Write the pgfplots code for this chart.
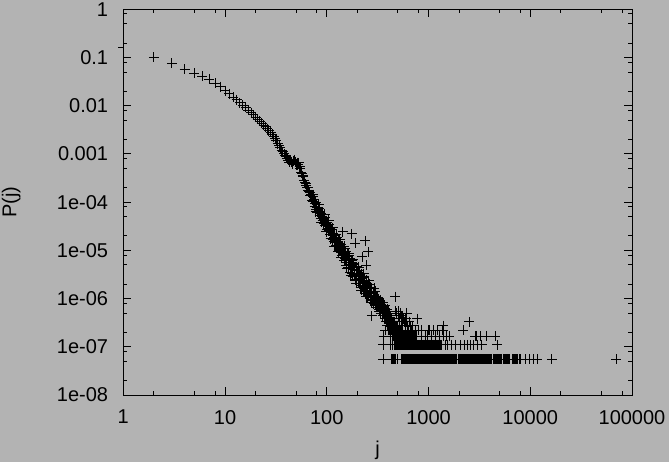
\documentclass[border=0pt]{standalone}
\usepackage{fontspec}
\setmainfont{Liberation Sans}
\usepackage{pgfplots}
\usepackage{pgfplotstable}
\pgfplotsset{compat=1.18}
\definecolor{bgc}{RGB}{179,179,179}
\newcommand{\lblfont}{\fontsize{20bp}{24bp}\selectfont}
\pgfplotstableread{
j P
2 0.101
3 0.0758
4 0.0569
5 0.047
6 0.0413
7 0.0358
8 0.0292
9 0.0248
10 0.0205
11 0.0178
12 0.0151
13 0.0132
14 0.0116
15 0.01035
16 0.00923
17 0.00813
18 0.00716
19 0.00646
20 0.00582
21 0.00525
22 0.00479
23 0.00437
24 0.00398
25 0.00363
26 0.00331
27 0.00305
28 0.00282
29 0.00257
30 0.00229
31 0.00209
32 0.00191
33 0.00162
34 0.00148
35 0.00135
36 0.00120
37 0.00110
38 0.00100
39 0.00093
40 0.00087
41 0.00079
42 0.00074
43 0.00068
44 0.00074
45 0.00068
46 0.00063
47 0.00072
48 0.00076
49 0.00068
50 0.00060
51 0.00066
52 0.00060
53 0.00065
54 0.00054
55 0.00050
56 0.00042
57 0.00040
58 0.000355
59 0.00034
60 0.00028
61 0.00026
62 0.00024
63 0.00022
64 0.000204
65 0.0002
66 0.000174
67 0.000166
68 0.000158
69 0.000138
70 0.000141
71 1.41e-4
72 1.10e-4
73 1.33e-4
74 1.04e-4
75 1.12e-4
76 8.15e-5
77 9.4e-5
78 9.9e-5
79 7.2e-5
80 7.6e-5
81 6.2e-5
82 7.6e-5
83 6.4e-5
84 7.5e-5
85 5.33e-5
86 6.0e-5
87 4.56e-5
88 5.77e-5
89 5.04e-5
90 5.55e-5
91 4.22e-5
92 4.75e-5
93 3.62e-5
94 4.61e-5
95 3.79e-5
96 4.72e-5
97 3.23e-5
98 3.66e-5
99 3.79e-5
100 2.71e-5
101 3.70e-5
102 2.90e-5
103 3.15e-5
104 2.53e-5
105 3.37e-5
106 2.65e-5
107 2.81e-5
108 2.10e-5
109 2.73e-5
110 2.15e-5
111 2.67e-5
112 2.10e-5
113 2.17e-5
114 1.67e-5
115 2.28e-5
116 1.79e-5
117 2.05e-5
118 1.55e-5
119 1.85e-5
120 2.07e-5
121 1.49e-5
122 1.63e-5
123 1.29e-5
124 1.73e-5
125 1.44e-5
126 1.85e-5
127 1.24e-5
128 1.49e-5
129 1.23e-5
130 1.55e-5
131 1.02e-5
132 1.28e-5
133 1.36e-5
134 9.8e-6
135 1.32e-5
136 1.04e-5
137 1.34e-5
138 9.25e-6
139 1.08e-5
140 7.8e-6
141 1.07e-5
142 9.1e-6
143 1.11e-5
144 7.7e-6
145 9.4e-6
146 1.08e-5
148 6.19e-6
150 8.55e-6
152 6.64e-6
154 9.6e-6
156 5.52e-6
158 6.81e-6
160 7.48e-6
162 4.32e-6
164 6.40e-6
166 5.1e-6
168 6.76e-6
170 4.29e-6
172 4.94e-6
174 5.71e-6
176 3.38e-6
178 4.92e-6
180 3.94e-6
183 5.13e-6
186 3.09e-6
189 3.80e-6
192 2.52e-6
195 3.82e-6
198 2.84e-6
201 3.76e-6
204 2.49e-6
207 2.88e-6
210 2.05e-6
213 3.05e-6
216 2.33e-6
219 2.63e-6
222 1.84e-6
225 2.86e-6
228 1.87e-6
231 2.16e-6
234 1.44e-6
237 2.21e-6
240 1.77e-6
244 2.18e-6
248 1.41e-6
252 1.73e-6
256 1.15e-6
260 1.66e-6
264 1.29e-6
268 1.71e-6
272 1.06e-6
276 1.28e-6
280 9.3e-7
285 1.34e-6
290 9.7e-7
295 1.13e-6
300 7.3e-7
147 7.98e-6
151 1.08e-5
155 4.81e-6
159 8.57e-6
163 5.69e-6
167 7.74e-6
171 3.49e-6
175 6.28e-6
179 2.90e-6
185 5.33e-6
191 2.38e-6
197 4.56e-6
203 2.06e-6
209 3.78e-6
215 1.67e-6
221 3.30e-6
227 1.50e-6
233 2.72e-6
239 1.27e-6
246 2.39e-6
254 1.09e-6
262 2.0e-6
270 8.97e-7
278 1.65e-6
288 7.8e-7
298 1.42e-6
74 1.44e-4
78 6.25e-5
83 9.0e-5
88 3.81e-5
95 5.6e-5
99 2.44e-5
104 4.2e-5
109 1.73e-5
114 2.96e-5
119 1.22e-5
124 2.18e-5
129 9.35e-6
134 1.71e-5
139 6.98e-6
149 1.21e-5
157 4.29e-6
165 8.65e-6
173 2.99e-6
181 6.41e-6
194 2.08e-6
206 4.42e-6
218 1.5e-6
230 3.24e-6
243 1.1e-6
258 2.34e-6
274 8.2e-7
292 1.65e-6
144 2.43e-5
175 2.2e-5
190 1.40e-5
240 1.57e-5
257 9.3e-6
222 7.4e-6
245 4.95e-6
472 1.096e-6
302 9.864e-7
304 7.672e-7
306 1.096e-6
308 8.768e-7
311 7.124e-7
313 9.316e-7
316 8.22e-7
318 1.0412e-6
321 6.576e-7
323 8.768e-7
326 7.672e-7
328 6.028e-7
331 8.22e-7
333 7.124e-7
336 9.316e-7
338 6.576e-7
341 5.48e-7
343 7.672e-7
346 6.028e-7
348 7.124e-7
351 4.932e-7
353 6.576e-7
356 5.48e-7
358 8.22e-7
361 4.932e-7
364 6.028e-7
366 4.384e-7
368 6.576e-7
371 5.48e-7
373 3.836e-7
376 4.932e-7
378 6.028e-7
381 4.384e-7
383 3.288e-7
386 5.48e-7
388 3.836e-7
391 4.932e-7
393 2.74e-7
396 4.384e-7
398 3.288e-7
401 5.48e-7
403 3.836e-7
406 2.74e-7
408 4.932e-7
411 3.288e-7
413 4.384e-7
416 2.192e-7
418 3.836e-7
421 2.74e-7
423 3.288e-7
426 4.384e-7
428 2.192e-7
431 3.288e-7
433 2.74e-7
436 3.836e-7
438 1.644e-7
441 2.74e-7
443 3.288e-7
446 2.192e-7
448 2.74e-7
451 1.644e-7
453 3.288e-7
456 2.192e-7
458 2.74e-7
461 1.644e-7
463 2.192e-7
466 3.288e-7
468 1.644e-7
471 2.74e-7
473 2.192e-7
476 1.096e-7
478 1.644e-7
481 2.74e-7
483 2.192e-7
486 1.644e-7
488 1.096e-7
491 2.192e-7
493 1.644e-7
496 2.74e-7
498 1.096e-7
501 1.644e-7
504 2.192e-7
507 1.096e-7
510 1.644e-7
514 2.74e-7
517 1.096e-7
520 2.192e-7
524 1.644e-7
528 1.096e-7
532 2.192e-7
536 1.644e-7
540 1.096e-7
545 1.644e-7
550 2.192e-7
555 1.096e-7
560 1.644e-7
303 8.22e-7
309 1.0412e-6
314 6.576e-7
319 7.672e-7
324 9.864e-7
329 5.48e-7
334 8.768e-7
339 4.932e-7
344 7.124e-7
349 8.22e-7
354 4.384e-7
359 6.576e-7
365 5.48e-7
370 7.124e-7
375 3.836e-7
380 6.028e-7
385 4.932e-7
390 3.288e-7
395 6.028e-7
400 4.384e-7
405 3.288e-7
410 4.932e-7
415 2.74e-7
420 4.384e-7
425 3.288e-7
430 2.192e-7
435 3.836e-7
440 2.74e-7
445 1.644e-7
450 3.288e-7
277 4.384e-7
510 4.384e-7
546 4.384e-7
552 4.384e-7
480 4.932e-7
530 4.932e-7
610 4.932e-7
470 5.48e-7
505 5.48e-7
520 3.836e-7
565 3.836e-7
600 3.836e-7
778 3.836e-7
540 3.288e-7
575 3.288e-7
610 3.288e-7
650 3.288e-7
2525 3.288e-7
560 2.74e-7
596 2.74e-7
625 2.74e-7
660 2.74e-7
700 2.74e-7
1390 2.74e-7
377 2.192e-7
403 2.192e-7
436 2.192e-7
470 2.192e-7
506 2.192e-7
546 2.192e-7
589 2.192e-7
634 2.192e-7
685 2.192e-7
738 2.192e-7
796 2.192e-7
859 2.192e-7
998 2.192e-7
1021 2.192e-7
1117 2.192e-7
1224 2.192e-7
1383 2.192e-7
2204 2.192e-7
363 1.644e-7
421 1.644e-7
453 1.644e-7
490 1.644e-7
527 1.644e-7
566 1.644e-7
579 1.644e-7
592 1.644e-7
606 1.644e-7
620 1.644e-7
634 1.644e-7
649 1.644e-7
664 1.644e-7
679 1.644e-7
695 1.644e-7
711 1.644e-7
727 1.644e-7
744 1.644e-7
761 1.644e-7
859 1.644e-7
926 1.644e-7
975 1.644e-7
1077 1.644e-7
1161 1.644e-7
1271 1.644e-7
1402 1.644e-7
1514 1.644e-7
1595 1.644e-7
2872 1.644e-7
2985 1.644e-7
3215 1.644e-7
3742 1.644e-7
4518 1.644e-7
360 1.096e-7
419 1.096e-7
442 1.096e-7
462 1.096e-7
488 1.096e-7
517 1.096e-7
548 1.096e-7
561 1.096e-7
574 1.096e-7
587 1.096e-7
600 1.096e-7
614 1.096e-7
628 1.096e-7
642 1.096e-7
657 1.096e-7
672 1.096e-7
687 1.096e-7
703 1.096e-7
719 1.096e-7
735 1.096e-7
752 1.096e-7
769 1.096e-7
787 1.096e-7
805 1.096e-7
823 1.096e-7
842 1.096e-7
861 1.096e-7
881 1.096e-7
901 1.096e-7
922 1.096e-7
943 1.096e-7
964 1.096e-7
986 1.096e-7
1009 1.096e-7
1032 1.096e-7
1056 1.096e-7
1080 1.096e-7
1105 1.096e-7
1130 1.096e-7
1156 1.096e-7
1182 1.096e-7
1209 1.096e-7
1237 1.096e-7
1265 1.096e-7
1294 1.096e-7
1323 1.096e-7
1350 1.096e-7
1456 1.096e-7
1535 1.096e-7
1668 1.096e-7
1827 1.096e-7
2080 1.096e-7
2240 1.096e-7
2415 1.096e-7
2607 1.096e-7
2763 1.096e-7
3027 1.096e-7
3344 1.096e-7
4762 1.096e-7
357 5.48e-8
437 5.48e-8
447 5.48e-8
457 5.48e-8
468 5.48e-8
479 5.48e-8
490 5.48e-8
501 5.48e-8
546 5.48e-8
559 5.48e-8
572 5.48e-8
585 5.48e-8
598 5.48e-8
612 5.48e-8
626 5.48e-8
640 5.48e-8
655 5.48e-8
670 5.48e-8
685 5.48e-8
701 5.48e-8
717 5.48e-8
733 5.48e-8
750 5.48e-8
767 5.48e-8
785 5.48e-8
803 5.48e-8
821 5.48e-8
840 5.48e-8
859 5.48e-8
879 5.48e-8
899 5.48e-8
920 5.48e-8
941 5.48e-8
962 5.48e-8
984 5.48e-8
1007 5.48e-8
1030 5.48e-8
1054 5.48e-8
1078 5.48e-8
1102 5.48e-8
1128 5.48e-8
1153 5.48e-8
1180 5.48e-8
1207 5.48e-8
1234 5.48e-8
1263 5.48e-8
1292 5.48e-8
1321 5.48e-8
1352 5.48e-8
1383 5.48e-8
1414 5.48e-8
1447 5.48e-8
1480 5.48e-8
1514 5.48e-8
1548 5.48e-8
1584 5.48e-8
1620 5.48e-8
1657 5.48e-8
1695 5.48e-8
1734 5.48e-8
1774 5.48e-8
1815 5.48e-8
1856 5.48e-8
1899 5.48e-8
1987 5.48e-8
2032 5.48e-8
2079 5.48e-8
2126 5.48e-8
2175 5.48e-8
2225 5.48e-8
2276 5.48e-8
2328 5.48e-8
2381 5.48e-8
2436 5.48e-8
2492 5.48e-8
2549 5.48e-8
2607 5.48e-8
2667 5.48e-8
2728 5.48e-8
2790 5.48e-8
2854 5.48e-8
2920 5.48e-8
2987 5.48e-8
3055 5.48e-8
3125 5.48e-8
3197 5.48e-8
3270 5.48e-8
3345 5.48e-8
3422 5.48e-8
3500 5.48e-8
3580 5.48e-8
3662 5.48e-8
3746 5.48e-8
3832 5.48e-8
3920 5.48e-8
4010 5.48e-8
4102 5.48e-8
4196 5.48e-8
4360 5.48e-8
4450 5.48e-8
4518 5.48e-8
4700 5.48e-8
4810 5.48e-8
4920 5.48e-8
5030 5.48e-8
5150 5.48e-8
5260 5.48e-8
5420 5.48e-8
5550 5.48e-8
5680 5.48e-8
5810 5.48e-8
5950 5.48e-8
6090 5.48e-8
6230 5.48e-8
6320 5.48e-8
6660 5.48e-8
6820 5.48e-8
6980 5.48e-8
7140 5.48e-8
7300 5.48e-8
7440 5.48e-8
7880 5.48e-8
8060 5.48e-8
8900 5.48e-8
9820 5.48e-8
10750 5.48e-8
11770 5.48e-8
16300 5.48e-8
70000 5.48e-8
}\datatable
\begin{document}
\begin{tikzpicture}
\path[use as bounding box, fill=bgc] (-123.3bp,-67bp) rectangle (545.7bp,395bp);
\begin{axis}[
  at={(0,0)}, anchor=south west,
  scale only axis, width=508.7bp, height=385.7bp,
  xmode=log, ymode=log,
  xmin=1, xmax=100000, ymin=1e-8, ymax=1,
  xtick={1,10,100,1000,10000,100000},
  xticklabels={1,10,100,1000,10000,100000},
  ytick={1e-8,1e-7,1e-6,1e-5,1e-4,1e-3,1e-2,1e-1,1},
  yticklabels={1e-08,1e-07,1e-06,1e-05,1e-04,0.001,0.01,0.1,1},
  minor xtick={2,5,8,20,50,80,200,500,800,2000,5000,8000,20000,50000,80000},
  minor ytick={2e-8,5e-8,8e-8,2e-7,5e-7,8e-7,2e-6,5e-6,8e-6,2e-5,5e-5,8e-5,2e-4,5e-4,8e-4,0.002,0.005,0.008,0.02,0.05,0.08,0.2,0.5,0.8},
  extra y ticks={0.16},
  extra y tick labels={},
  extra y tick style={tick align=outside, ytick pos=left, major tick length=5bp},
  tick align=inside,
  major tick length=8bp, minor tick length=4bp,
  tick style={black, line width=1bp},
  axis line style={black, line width=1bp},
  axis background/.style={fill=bgc},
  /pgf/number format/assume math mode=true,
  xticklabel style={anchor=north, inner sep=0pt, yshift=-15bp, font=\lblfont},
  yticklabel style={anchor=east, inner sep=0pt, xshift=-15bp, font=\lblfont},
  xlabel={j}, ylabel={P(j)},
  every axis x label/.style={at={(axis description cs:0.5,-0.1185)}, anchor=north, inner sep=0pt, font=\lblfont},
  every axis y label/.style={at={(axis description cs:-0.2202,0.5)}, anchor=center, rotate=90, inner sep=0pt, font=\lblfont},
]
\addplot[only marks, mark=+, mark size=5bp, line width=1bp, black] table[x=j, y=P] {\datatable};
\end{axis}
\end{tikzpicture}
\end{document}
